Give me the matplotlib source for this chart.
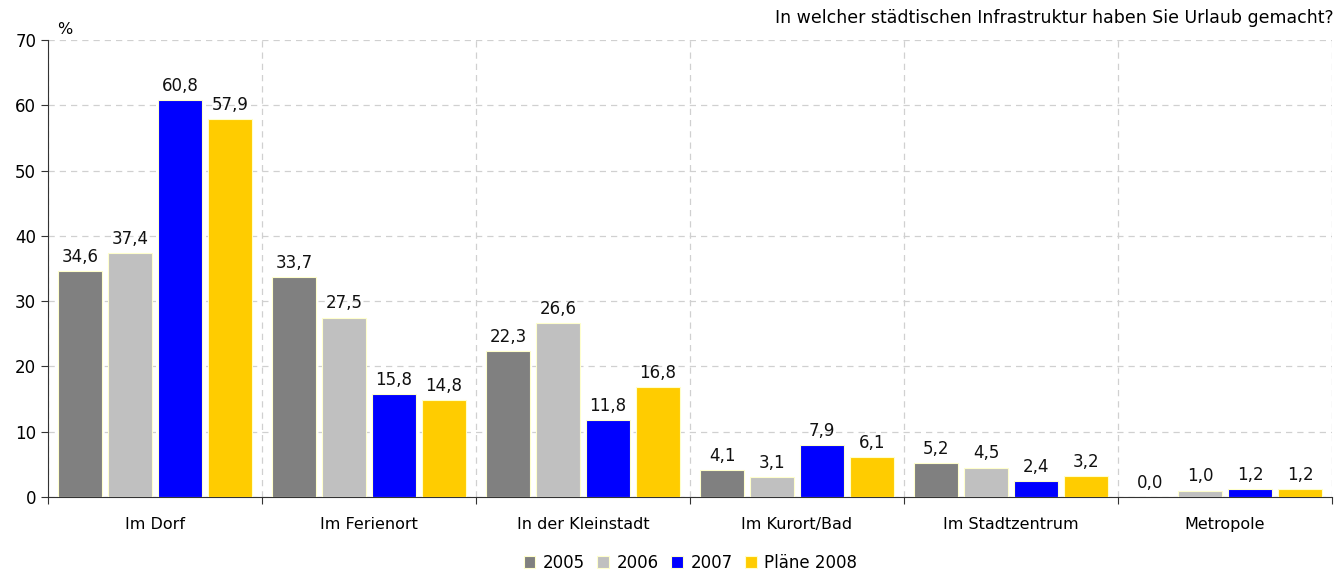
import numpy as np
import matplotlib.pyplot as plt

# Daten
kategorien = ["Im Dorf", "Im Ferienort", "In der Kleinstadt", "Im Kurort/Bad",
              "Im Stadtzentrum", "Metropole"]
serien = ["2005", "2006", "2007", "Pläne 2008"]
werte_2005 = [34.6, 33.7, 22.3, 4.1, 5.2, 0.0]
werte_2006 = [37.4, 27.5, 26.6, 3.1, 4.5, 1.0]
werte_2007 = [60.8, 15.8, 11.8, 7.9, 2.4, 1.2]
werte_2008 = [57.9, 14.8, 16.8, 6.1, 3.2, 1.2]
farben = ["#808080", "#C0C0C0", "#0000FF", "#FFCC00"]

plt.rcParams['font.family'] = ['DejaVu Sans']

fig = plt.figure(figsize=(13.38, 5.72), dpi=100)
ax = fig.add_axes([0.0359, 0.131, 0.9596, 0.799])

x = np.arange(len(kategorien))
schritt = 0.2336
breite = 0.206
alle = [werte_2005, werte_2006, werte_2007, werte_2008]
for i, (werte, farbe, name) in enumerate(zip(alle, farben, serien)):
    pos = x + (i - 1.5) * schritt
    ax.bar(pos, werte, breite, color=farbe, edgecolor="#FFFFCC",
           linewidth=0.8, label=name, zorder=3)
    for xp, v in zip(pos, werte):
        ax.text(xp, v + 0.8, f"{v:.1f}".replace(".", ","), ha="center",
                va="bottom", fontsize=12, color="#111111", zorder=4)

ax.set_xlim(-0.5, len(kategorien) - 0.5)
ax.set_ylim(0, 70)
ax.set_yticks(range(0, 71, 10))
ax.set_xticks(np.arange(-0.5, len(kategorien), 1.0))
ax.set_xticklabels([])
ax.set_xticks(x, minor=True)
ax.set_xticklabels(kategorien, minor=True, fontsize=11.5)
ax.tick_params(axis="x", which="minor", length=0, pad=14)
ax.tick_params(axis="x", which="major", length=5, color="#333333")
ax.tick_params(axis="y", labelsize=12, length=5, color="#333333")

ax.grid(True, which="major", linestyle=(0, (5, 4)), color="#D0D0D0",
        linewidth=0.9, zorder=0)
for s in ["top", "right"]:
    ax.spines[s].set_visible(False)
ax.spines["left"].set_color("#333333")
ax.spines["bottom"].set_color("#333333")

fig.text(0.043, 0.935, "%", fontsize=11.5, ha="left", va="bottom")
fig.text(0.997, 0.952, "In welcher städtischen Infrastruktur haben Sie Urlaub gemacht?",
         fontsize=12.5, ha="right", va="bottom")

handles, labels = ax.get_legend_handles_labels()
fig.legend(handles, labels, loc="center", bbox_to_anchor=(0.516, 0.0157), ncol=4,
           frameon=False, fontsize=12, handlelength=0.7, handleheight=0.7,
           handletextpad=0.45, columnspacing=0.75, borderpad=0)

fig.savefig("out.png", dpi=100)
